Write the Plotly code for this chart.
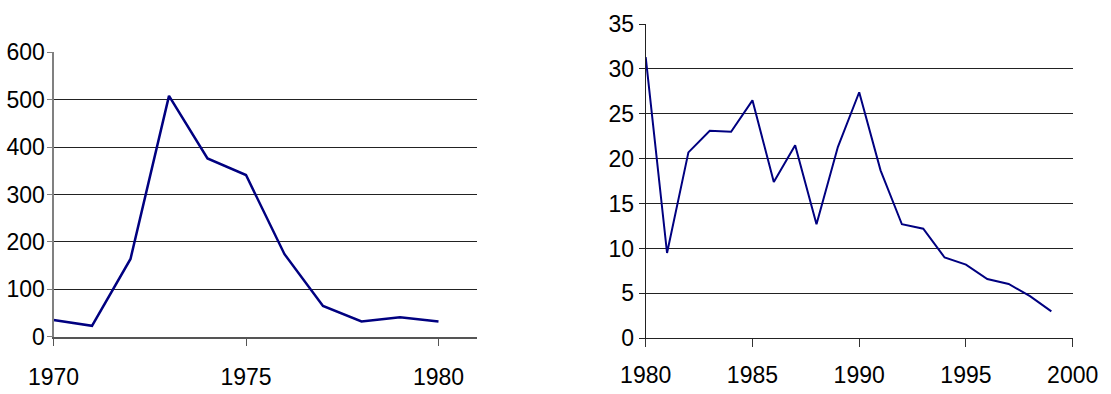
import plotly.graph_objects as go

# Left chart data
years_left = [1970, 1971, 1972, 1973, 1974, 1975, 1976, 1977, 1978, 1979, 1980]
values_left = [35, 23, 164, 508, 376, 341, 174, 65, 32, 41, 32]

# Right chart data
years_right = list(range(1980, 2000))
values_right = [31.3, 9.5, 20.7, 23.1, 23.0, 26.5, 17.4, 21.5, 12.7, 21.3,
                27.4, 18.7, 12.7, 12.2, 9.0, 8.2, 6.6, 6.05, 4.7, 3.0]

left_yticks = [0, 100, 200, 300, 400, 500, 600]
left_xticks = [1970, 1975, 1980]
right_yticks = [0, 5, 10, 15, 20, 25, 30, 35]
right_ygrid = [5, 10, 15, 20, 25, 30]
right_xticks = [1980, 1985, 1990, 1995, 2000]

W, H = 1111, 394
NAVY = "#000080"
font_l = "Liberation Sans, Arial, sans-serif"
font_r = "Liberation Sans, Arial, sans-serif"

fig = go.Figure()
fig.add_trace(go.Scatter(x=years_left, y=values_left, mode="lines",
                         line=dict(color=NAVY, width=2.5), xaxis="x", yaxis="y",
                         showlegend=False, hoverinfo="x+y"))
fig.add_trace(go.Scatter(x=years_right, y=values_right, mode="lines",
                         line=dict(color=NAVY, width=2), xaxis="x2", yaxis="y2",
                         showlegend=False, hoverinfo="x+y"))

fig.update_layout(
    width=W, height=H,
    margin=dict(l=0, r=0, t=0, b=0, autoexpand=False),
    paper_bgcolor="white", plot_bgcolor="white",
    xaxis=dict(domain=[53.5 / W, 477 / W], range=[1970, 1981], automargin=False,
               tickvals=left_xticks, ticks="outside", ticklen=8, tickcolor="#555555",
               showline=True, linecolor="#555555", linewidth=1.5, showgrid=False,
               zeroline=False, tickfont=dict(family=font_l, size=23, color="black"),
               ticklabelstandoff=11, anchor="y"),
    yaxis=dict(domain=[1 - 336.7 / H, 1 - 52.3 / H], range=[0, 600], automargin=False,
               tickvals=left_yticks, ticks="outside", ticklen=5, tickcolor="#808080",
               showline=True, linecolor="#808080", linewidth=2,
               showgrid=True, gridcolor="#222222", gridwidth=1,
               zeroline=False, tickfont=dict(family=font_l, size=23, color="black"),
               ticklabelstandoff=-3, anchor="x"),
    xaxis2=dict(domain=[645.7 / W, 1072.7 / W], range=[1980, 2000], automargin=False,
                tickvals=right_xticks, ticks="outside", ticklen=8, tickcolor="#333333",
                showline=True, linecolor="#222222", linewidth=1, showgrid=False,
                zeroline=False, tickfont=dict(family=font_r, size=23, color="black"),
                ticklabelstandoff=8, anchor="y2"),
    yaxis2=dict(domain=[1 - 338.3 / H, 1 - 24 / H], range=[0, 35], automargin=False,
                tickvals=right_yticks, ticks="outside", ticklen=6, tickcolor="#222222",
                showline=True, linecolor="#222222", linewidth=1,
                showgrid=False, zeroline=False,
                minor=dict(tickvals=right_ygrid, showgrid=True, gridcolor="#222222",
                           gridwidth=1, ticks=""),
                tickfont=dict(family=font_r, size=23, color="black"),
                ticklabelstandoff=0, anchor="x2"),
)

fig.write_html("out.html", config={"displayModeBar": False},
               post_script="document.body.style.margin='0';")
